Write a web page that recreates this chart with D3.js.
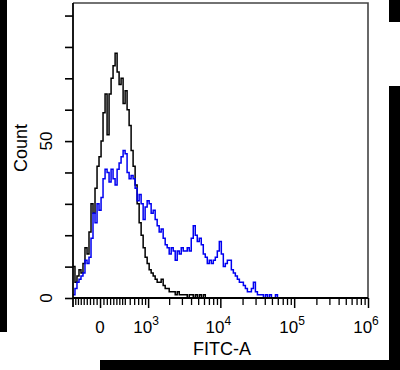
<!DOCTYPE html>
<html>
<head>
<meta charset="utf-8">
<script src="https://cdn.jsdelivr.net/npm/d3@7"></script>
<style>
  html, body { margin: 0; padding: 0; background: #fff; }
  svg { display: block; }
  text { font-family: "Liberation Sans", Arial, sans-serif; fill: #000; }
</style>
</head>
<body>
<svg id="chart" width="400" height="370"></svg>
<script>
// ---- data ----
// FITC-A bin edges (biexponential channels)
const fitcBins = [-445,-406,-368,-331,-296,-262,-229,-196,-165,-134,-104,-74,-44,-15,15,44,74,104,134,165,196,229,262,296,331,368,406,445,487,530,575,623,673,726,781,840,901,967,1036,1109,1187,1269,1356,1448,1546,1650,1761,1878,2003,2136,2277,2427,2586,2756,2936,3127,3332,3549,3779,4025,4287,4565,4861,5176,5511,5869,6248,6653,7082,7541,8028,8547,9099,9686,10313,10978,11687,12442,13245,14100,15010,15980,17011,18109,19277,20521,21846,23256,24757,26354,28055,29865,31792,33843,36027,38351,40826,43460,46264,49249,52426,55809,59409,63242,67322];

// control (black) counts per bin
const controlCounts = [10,5,7,9,8,11,16,14,21,30,27,35,42,45,50,59,65,52,65,70,74,78,72,68,70,62,66,60,55,47,42,36,30,24,20,16,13,11,9,8,7,6,5,5,6,4,3,3,2,2,2,1,2,1,1,1,1,0,1,1,0,1,0,1,0,1,0,0,0,0,0,0,0,0,0,0,0,0,0,0,0,0,0,0,0,0,0,0,0,0,0,0,0,0,0,0,0,0,0,0,0,0,0,0];

// stained sample (blue) counts per bin
const sampleCounts = [1,3,5,6,7,8,12,11,13,19,27,24,30,28,32,38,41,40,37,41,38,36,41,43,45,47,46,40,38,39,38,35,31,33,30,25,29,31,30,27,28,25,23,21,22,19,17,16,14,16,15,12,15,14,16,15,15,16,15,19,23,20,18,19,17,14,13,11,12,11,12,13,15,18,14,10,11,12,12,9,8,7,6,5,5,4,3,2,2,3,5,2,1,1,1,0,1,0,1,0,0,1,0,0];

const yTicks = [0,10,20,30,40,50,60,70,80,90];
const yLabels = [0,50];
const xMajor = [0,1e3,1e4,1e5,1e6];
const xMajorLabels = [{base:"0",exp:""},{base:"10",exp:"3"},{base:"10",exp:"4"},{base:"10",exp:"5"},{base:"10",exp:"6"}];
const xMinor = [-400,-350,-300,-250,-200,-150,-100,-50,50,100,150,200,250,300,350,400,500,600,700,800,900,
  2000,3000,4000,5000,6000,7000,8000,9000,
  20000,30000,40000,50000,60000,70000,80000,90000,
  200000,300000,400000,500000,600000,700000,800000,900000];
const xTitle = "FITC-A";
const yTitle = "Count";
const xDomain = [-445, 1e6];
const yDomain = [0, 94];

// ---- layout ----
const L = 73, R = 368, T = 3, B = 298;
const W0 = 470; // biexponential width parameter
const tf = v => Math.asinh(v / W0);

const svg = d3.select("#chart");
const xT = d3.scaleLinear().domain(xDomain.map(tf)).range([L, R]);
const x = v => xT(tf(v));
const y = d3.scaleLinear().domain(yDomain).range([B, T]);

// clip
svg.append("clipPath").attr("id","plotclip").append("rect")
  .attr("x", L).attr("y", T).attr("width", R - L).attr("height", B - T + 1);

// frame (top & right)
svg.append("path")
  .attr("d", `M${L},${T}H${R}V${B}`)
  .attr("fill","none").attr("stroke","#444").attr("stroke-width",1.6);

// histograms
function histPath(counts) {
  const pts = counts.map((c, i) => [fitcBins[i], c]);
  pts.push([fitcBins[counts.length], counts[counts.length - 1]]);
  return d3.line().x(d => x(d[0])).y(d => y(d[1])).curve(d3.curveStepAfter)(pts);
}
const g = svg.append("g").attr("clip-path","url(#plotclip)");
g.append("path").attr("d", histPath(controlCounts))
  .attr("fill","none").attr("stroke","#000").attr("stroke-width",1.5);
g.append("path").attr("d", histPath(sampleCounts))
  .attr("fill","none").attr("stroke","#0000f0").attr("stroke-width",1.5);

// y axis
const yAxis = svg.append("g").attr("transform", `translate(${L},0)`)
  .call(d3.axisLeft(y).tickValues(yTicks).tickSize(8).tickSizeOuter(0).tickFormat(""));
yAxis.select(".domain").remove();
yAxis.selectAll(".tick line").attr("stroke","#000").attr("stroke-width",1.6);
svg.append("line").attr("x1",L).attr("x2",L).attr("y1",T).attr("y2",B+9)
  .attr("stroke","#000").attr("stroke-width",1.8);
yLabels.forEach(v => {
  svg.append("text").attr("transform", `translate(52,${y(v)}) rotate(-90)`)
    .attr("text-anchor","middle").attr("font-size",17).text(v);
});
svg.append("text").attr("transform", `translate(27,148) rotate(-90)`)
  .attr("text-anchor","middle").attr("font-size",18).text(yTitle);

// x axis
svg.append("line").attr("x1",L).attr("x2",R).attr("y1",B).attr("y2",B)
  .attr("stroke","#000").attr("stroke-width",1.8);
const xMinAx = svg.append("g").attr("transform", `translate(0,${B})`)
  .call(d3.axisBottom(xT).tickValues(xMinor.map(tf)).tickSize(7).tickSizeOuter(0).tickFormat(""));
xMinAx.select(".domain").remove();
xMinAx.selectAll(".tick line").attr("stroke","#000").attr("stroke-width",1.3);
const xMajAx = svg.append("g").attr("transform", `translate(0,${B})`)
  .call(d3.axisBottom(xT).tickValues(xMajor.map(tf)).tickSize(10).tickSizeOuter(0).tickFormat(""));
xMajAx.select(".domain").remove();
xMajAx.selectAll(".tick line").attr("stroke","#000").attr("stroke-width",1.5);

xMajor.forEach((v, i) => {
  const lab = xMajorLabels[i];
  const t = svg.append("text").attr("x", x(v) - (lab.exp ? 2 : 0)).attr("y", 333)
    .attr("text-anchor","middle").attr("font-size",17);
  t.append("tspan").text(lab.base);
  if (lab.exp) t.append("tspan").attr("dy",-8).attr("font-size",12).text(lab.exp);
});
svg.append("text").attr("x",222).attr("y",355).attr("text-anchor","middle")
  .attr("font-size",18).text(xTitle);

// black border blocks of the original image
const blocks = [[0,0,7,332],[389,0,11,22],[389,86,11,284],[100,360,290,10]];
svg.selectAll("rect.blk").data(blocks).enter().append("rect").attr("class","blk")
  .attr("x",d=>d[0]).attr("y",d=>d[1]).attr("width",d=>d[2]).attr("height",d=>d[3])
  .attr("fill","#000");
</script>
</body>
</html>
